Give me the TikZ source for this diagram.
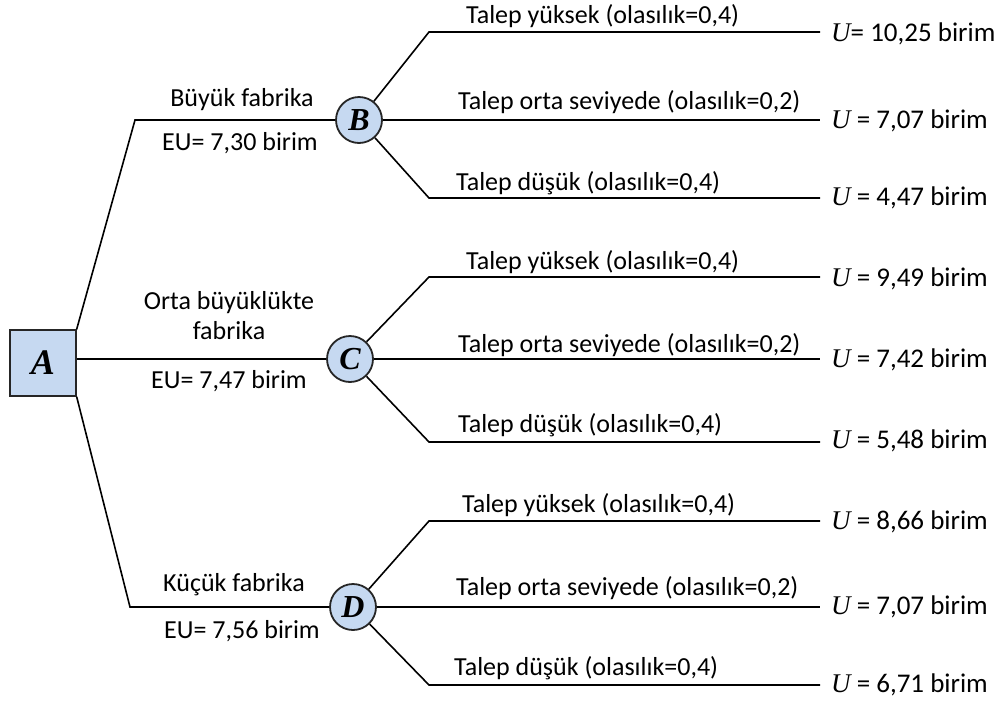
\documentclass[tikz,border=0pt]{standalone}
\usepackage{fontspec}
\setmainfont{Carlito}
\newfontfamily\mathlike{Liberation Serif}
\definecolor{nodefill}{HTML}{C6D9F1}
\definecolor{edgegray}{HTML}{262626}
\begin{document}
\begin{tikzpicture}[x=1pt,y=-1pt,
  every node/.style={font=\fontsize{26}{30}\selectfont, inner sep=0pt},
  conn/.style={draw=black, line width=1.6pt},
  decbox/.style={draw=edgegray, line width=1.3pt, fill=nodefill, minimum width=66pt, minimum height=66pt, inner sep=0pt, font=\mathlike\bfseries\itshape\fontsize{36}{36}\selectfont},
  chance/.style={circle, draw=edgegray, line width=1.8pt, fill=nodefill, minimum size=46pt, inner sep=0pt, font=\mathlike\bfseries\itshape\fontsize{32}{32}\selectfont},
  blabel/.style={anchor=west},
  ulabel/.style={anchor=west, font=\fontsize{27}{30}\selectfont},
  alabel/.style={align=center}
]
\useasboundingbox (0,0) rectangle (1006,702);

\node[decbox] (A) at (43,363) {A};
\node[chance] (B) at (359,120) {B};
\node[chance] (C) at (350,359) {C};
\node[chance] (D) at (353,607) {D};

\coordinate (ab) at (135,120);
\coordinate (ad) at (130,607);
\draw[conn] (A.north east) -- (ab) -- (B);
\draw[conn] (A.east |- C) -- (C);
\draw[conn] (A.south east) -- (ad) -- (D);

% first-level labels
\node[alabel] (l1) at (242,100) {Büyük fabrika};
\node[alabel] (l2) at (240,143) {EU= 7,30 birim};
\node[alabel] (l3) at (229,316) {Orta büyüklükte\\fabrika};
\node[alabel] (l4) at (229,381) {EU= 7,47 birim};
\node[alabel] (l5) at (234,585) {Küçük fabrika};
\node[alabel] (l6) at (242,631) {EU= 7,56 birim};

% B branches
\coordinate (b1c) at (429,32);  \coordinate (b1e) at (820,32);
\coordinate (b2e) at (820,120);
\coordinate (b3c) at (429,198); \coordinate (b3e) at (820,198);
\draw[conn] (B) -- (b1c) -- (b1e);
\draw[conn] (B) -- (b2e);
\draw[conn] (B) -- (b3c) -- (b3e);

% C branches
\coordinate (c1c) at (429,277); \coordinate (c1e) at (820,277);
\coordinate (c2e) at (820,359);
\coordinate (c3c) at (429,442); \coordinate (c3e) at (820,442);
\draw[conn] (C) -- (c1c) -- (c1e);
\draw[conn] (C) -- (c2e);
\draw[conn] (C) -- (c3c) -- (c3e);

% D branches
\coordinate (d1c) at (429,521); \coordinate (d1e) at (820,521);
\coordinate (d2e) at (820,607);
\coordinate (d3c) at (429,685); \coordinate (d3e) at (820,685);
\draw[conn] (D) -- (d1c) -- (d1e);
\draw[conn] (D) -- (d2e);
\draw[conn] (D) -- (d3c) -- (d3e);

% branch labels
\node[blabel] (tb1) at (466,16) {Talep yüksek (olasılık=0,4)};
\node[blabel] (tb2) at (458,102) {Talep orta seviyede (olasılık=0,2)};
\node[blabel] (tb3) at (456,183) {Talep düşük (olasılık=0,4)};
\node[blabel] (tc1) at (466,262) {Talep yüksek (olasılık=0,4)};
\node[blabel] (tc2) at (458,345) {Talep orta seviyede (olasılık=0,2)};
\node[blabel] (tc3) at (458,425) {Talep düşük (olasılık=0,4)};
\node[blabel] (td1) at (462,505) {Talep yüksek (olasılık=0,4)};
\node[blabel] (td2) at (456,588) {Talep orta seviyede (olasılık=0,2)};
\node[blabel] (td3) at (454,668) {Talep düşük (olasılık=0,4)};

% utilities
\node[ulabel] (ub1) at (831,34) {{\mathlike\itshape U}= 10,25 birim};
\node[ulabel] (ub2) at (831,121) {{\mathlike\itshape U} = 7,07 birim};
\node[ulabel] (ub3) at (831,198) {{\mathlike\itshape U} = 4,47 birim};
\node[ulabel] (uc1) at (831,279) {{\mathlike\itshape U} = 9,49 birim};
\node[ulabel] (uc2) at (831,360) {{\mathlike\itshape U} = 7,42 birim};
\node[ulabel] (uc3) at (831,441) {{\mathlike\itshape U} = 5,48 birim};
\node[ulabel] (ud1) at (831,522) {{\mathlike\itshape U} = 8,66 birim};
\node[ulabel] (ud2) at (831,607) {{\mathlike\itshape U} = 7,07 birim};
\node[ulabel] (ud3) at (831,685) {{\mathlike\itshape U} = 6,71 birim};
\end{tikzpicture}
\end{document}
